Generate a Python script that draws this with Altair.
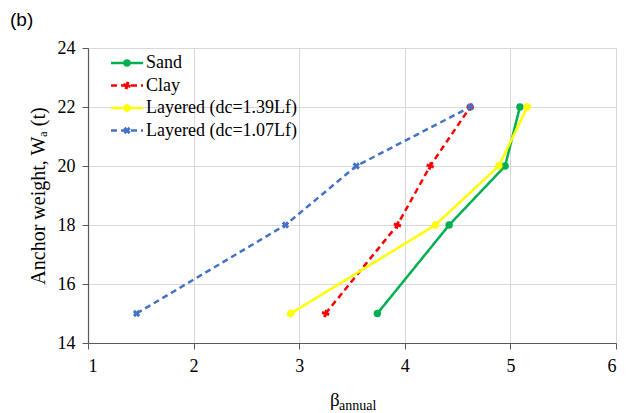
import altair as alt
import pandas as pd

weights = [15, 18, 20, 22]
series_names = ["Sand", "Clay", "Layered (dc=1.39Lf)", "Layered (dc=1.07Lf)"]
beta_sand = [3.74, 4.42, 4.95, 5.09]
beta_clay = [3.25, 3.93, 4.24, 4.62]
beta_l139 = [2.92, 4.29, 4.89, 5.16]
beta_l107 = [1.46, 2.87, 3.54, 4.62]
colors = ["#00b050", "#ff0000", "#ffff00", "#4472c4"]
shapes = ["circle", "cross", "circle", "cross"]
dashes = [[1, 0], [6, 4], [1, 0], [6, 4]]

rows = []
for name, vals in zip(series_names, [beta_sand, beta_clay, beta_l139, beta_l107]):
    for w, b in zip(weights, vals):
        rows.append({"series": name, "beta": b, "W": w})
df = pd.DataFrame(rows)

leg = pd.DataFrame({"series": series_names,
                    "ly": [15 + 22.5 * i for i in range(4)]})

W, H = 528, 295
FONT = "Times New Roman, Liberation Serif, DejaVu Serif, serif"

color = alt.Color("series:N", scale=alt.Scale(domain=series_names, range=colors), legend=None)
shape = alt.Shape("series:N", scale=alt.Scale(domain=series_names, range=shapes), legend=None)
dash = alt.StrokeDash("series:N", scale=alt.Scale(domain=series_names, range=dashes), legend=None)
angle = alt.Angle("series:N", scale=alt.Scale(domain=series_names, range=[0, 45, 0, 45]), legend=None)

x = alt.X("beta:Q", scale=alt.Scale(domain=[1, 6], nice=False),
          axis=alt.Axis(values=[1, 2, 3, 4, 5, 6], title=None, format="d", labelPadding=8))
y = alt.Y("W:Q", scale=alt.Scale(domain=[14, 24], nice=False, zero=False),
          axis=alt.Axis(values=[14, 16, 18, 20, 22, 24], title="Anchor weight, Wₐ (t)",
                        titleFont=FONT, titleFontSize=20, titleFontWeight="normal",
                        titlePadding=9, titleColor="#000000", labelPadding=7))

lines = alt.Chart(df).mark_line(strokeWidth=2.5).encode(
    x=x, y=y, color=color, strokeDash=dash, order="W:Q", detail="series:N")
points = alt.Chart(df).mark_point(filled=True, size=55, opacity=1).encode(
    x=x, y=y, color=color, shape=shape, angle=angle)

leg_rule = alt.Chart(leg).mark_rule(strokeWidth=2.5).encode(
    x=alt.value(23), x2=alt.value(55), y=alt.Y("ly:Q", scale=None), color=color, strokeDash=dash)
leg_pt = alt.Chart(leg).mark_point(filled=True, size=55, opacity=1).encode(
    x=alt.value(39), y=alt.Y("ly:Q", scale=None), color=color, shape=shape, angle=angle)
leg_txt = alt.Chart(leg).mark_text(align="left", baseline="middle", font=FONT, fontSize=18,
                                   color="#000000").encode(
    x=alt.value(58), y=alt.Y("ly:Q", scale=None), text="series:N")

beta_txt = alt.Chart(pd.DataFrame({"t": ["β"]})).mark_text(
    align="left", baseline="alphabetic", font=FONT, fontSize=19, color="#000000").encode(
    x=alt.value(242), y=alt.value(358), text="t:N")
annual_txt = alt.Chart(pd.DataFrame({"t": ["annual"]})).mark_text(
    align="left", baseline="alphabetic", font=FONT, fontSize=14, color="#000000").encode(
    x=alt.value(251), y=alt.value(362), text="t:N")
b_txt = alt.Chart(pd.DataFrame({"t": ["(b)"]})).mark_text(
    align="left", baseline="middle", font="Liberation Sans, Arial, sans-serif", fontSize=19,
    color="#000000").encode(
    x=alt.value(-78), y=alt.value(-28), text="t:N")

chart = alt.layer(lines, points, leg_rule, leg_pt, leg_txt, beta_txt, annual_txt, b_txt).properties(
    width=W, height=H,
    autosize=alt.AutoSizeParams(type="none"),
    padding={"left": 80, "top": 40, "right": 2, "bottom": 70},
).configure_view(stroke=None).configure_axis(
    labelFont=FONT, labelFontSize=18, labelColor="#000000",
    gridColor="#d9d9d9", gridWidth=1,
    domainColor="#595959", domainWidth=1.2,
    tickColor="#595959", tickSize=6,
)

chart.save("out.html", embed_options={"renderer": "svg", "actions": False})
